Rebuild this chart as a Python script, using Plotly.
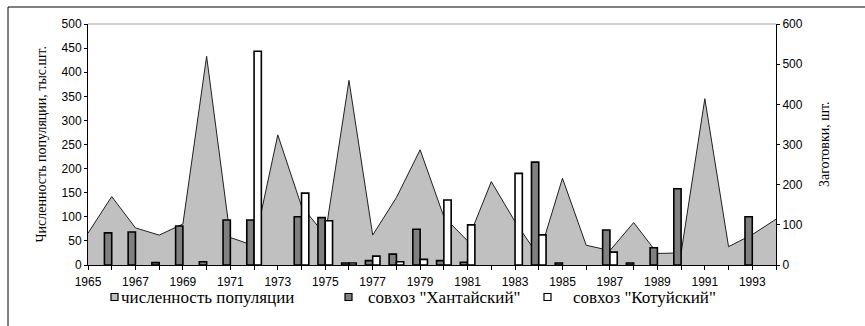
import plotly.graph_objects as go

# Years on the category axis
years = list(range(1965, 1995))

# Population size, thousand head (left axis)
population = [66, 142, 77, 62, 85, 433, 57, 40, 270, 122,
              62, 383, 62, 140, 239, 100, 50, 173, 90, 18,
              180, 41, 30, 88, 24, 25, 345, 38, 63, 95]

# Procurement by state farm, head (right axis); None = no data
khantaisky = [None, 80, 82, 6, 97, 8, 112, 112, None, 120,
              118, 5, 11, 27, 89, 11, 7, None, None, 256,
              5, None, 87, 5, 43, 190, None, None, 120, None]
kotuisky = [None, None, None, None, None, None, None, 532, None, 179,
            110, 5, 22, 8, 14, 162, 100, None, 228, 75,
            None, None, 32, None, None, None, None, None, None, None]

tick_labels = [str(y) if y % 2 == 1 else "" for y in years]

names = ["численность популяции", 'совхоз "Хантайский"', 'совхоз "Котуйский"']

W, H = 865, 326
L, R, T, B = 88, 89, 24, 61
PW, PH = W - L - R, H - T - B


def px(x):
    return (x - L) / PW


def py(y):
    return (H - B - y) / PH


SANS = "Liberation Sans, Arial, sans-serif"
SERIF = "Liberation Serif, Times New Roman, serif"

fig = go.Figure()
fig.add_trace(go.Scatter(
    x=years, y=population, name=names[0], mode="lines",
    line=dict(color="#202020", width=1), fill="tozeroy",
    fillcolor="#c0c0c0", yaxis="y", showlegend=False,
))
fig.add_trace(go.Bar(
    x=years, y=khantaisky, name=names[1], yaxis="y2",
    marker=dict(color="#808080", line=dict(color="black", width=1.6)),
    showlegend=False,
))
fig.add_trace(go.Bar(
    x=years, y=kotuisky, name=names[2], yaxis="y2",
    marker=dict(color="white", line=dict(color="black", width=1.6)),
    showlegend=False,
))

axis_font = dict(family=SANS, size=12, color="black")
fig.update_layout(
    width=W, height=H,
    margin=dict(l=L, r=R, t=T, b=B, pad=0),
    paper_bgcolor="white", plot_bgcolor="white",
    barmode="group", bargap=0.385, bargroupgap=0,
    xaxis=dict(
        range=[1965, 1994], tickmode="array", tickvals=years, ticktext=tick_labels,
        ticks="outside", ticklen=4, tickcolor="black", tickwidth=1,
        showline=True, linecolor="black", linewidth=1, showgrid=False,
        zeroline=False, tickfont=axis_font, ticklabelstandoff=2,
    ),
    yaxis=dict(
        range=[0, 500], tickvals=list(range(0, 501, 50)),
        ticks="outside", ticklen=3, tickcolor="black",
        showline=True, linecolor="black", linewidth=1, showgrid=False,
        zeroline=False, tickfont=axis_font,
    ),
    yaxis2=dict(
        range=[0, 600], tickvals=list(range(0, 601, 100)), overlaying="y", side="right",
        ticks="outside", ticklen=3, tickcolor="black",
        showline=True, linecolor="black", linewidth=1, showgrid=False,
        zeroline=False, tickfont=axis_font,
    ),
)

shapes = [
    # chart frame
    dict(type="rect", xref="paper", yref="paper", x0=px(8), x1=px(W + 10),
         y0=py(H + 10), y1=py(7), line=dict(color="black", width=1)),
    # top edge of the plot area
    dict(type="line", xref="paper", yref="paper", x0=0, x1=1, y0=1, y1=1,
         line=dict(color="#a0a0a0", width=1)),
]

annotations = [
    dict(text="Численность популяции, тыс.шт.", xref="paper", yref="paper",
         x=px(31.5), y=0.5, textangle=-90, showarrow=False,
         font=dict(family=SERIF, size=14, color="black")),
    dict(text="Заготовки, шт.", xref="paper", yref="paper",
         x=px(834), y=0.5, textangle=-90, showarrow=False,
         font=dict(family=SERIF, size=14, color="black")),
]

# legend row
legend_y = 297
legend_items = [
    (111, 119, "#c0c0c0", names[0]),
    (345, 366, "#808080", names[1]),
    (544, 571, "white", names[2]),
]
for bx, tx, col, label in legend_items:
    shapes.append(dict(type="rect", xref="paper", yref="paper",
                       x0=px(bx), x1=px(bx + 7), y0=py(legend_y + 3.5), y1=py(legend_y - 3.5),
                       fillcolor=col, line=dict(color="black", width=1.2)))
    annotations.append(dict(text=label, xref="paper", yref="paper",
                            x=px(tx), y=py(legend_y), xanchor="left", yanchor="middle",
                            showarrow=False, font=dict(family=SERIF, size=17, color="black")))

fig.update_layout(shapes=shapes, annotations=annotations)
fig.write_html("out.html")
